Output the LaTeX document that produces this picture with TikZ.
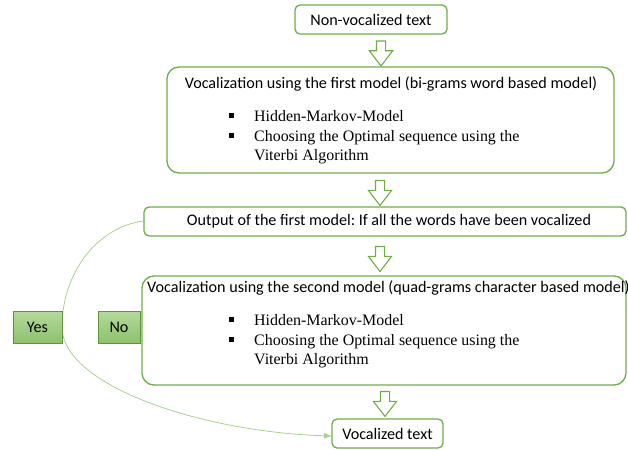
\documentclass[tikz,border=0pt]{standalone}
\usepackage{fontspec}
\setmainfont{Carlito}
\newfontfamily\listfont{Liberation Serif}
\usetikzlibrary{shapes.arrows,arrows.meta}
\definecolor{boxgreen}{HTML}{70AD47}
\definecolor{linegreen}{HTML}{A9D18E}
\definecolor{answertop}{HTML}{B5D99C}
\definecolor{answerbottom}{HTML}{8CC26B}
\newcommand{\sqbullet}{\rule[0.22em]{4.5bp}{4.5bp}}

\begin{document}
\begin{tikzpicture}[x=1bp, y=-1bp,
    sans/.style={font=\frenchspacing\fontsize{16.2}{19}\selectfont},
    stage/.style={sans, draw=boxgreen, line width=1.3pt, rounded corners=5bp, fill=white, inner sep=0pt},
    bigstage/.style={stage, rounded corners=12bp},
    hollow/.style={single arrow, draw=boxgreen, line width=1.1pt, fill=white, rotate=-90,
      minimum height=25bp, minimum width=18bp, inner sep=4bp, single arrow tip angle=75},
    answer/.style={sans, draw=boxgreen!85!black, line width=0.6pt, top color=answertop, bottom color=answerbottom},
    listtext/.style={inner sep=0pt, anchor=north west,
      font=\listfont\fontsize{16}{20}\selectfont},
    decision/.style={draw=linegreen, line width=0.8pt, -{Latex[length=8bp,width=6bp]}}]
  \useasboundingbox (0,0) rectangle (628,450);

  \coordinate (bend) at (62,327);
  \draw[decision] (143,221) .. controls (95,228) and (62,275) .. (bend)
    .. controls (62,385) and (200,432) .. (332,436);

  \node[stage, minimum width=152bp, minimum height=29bp] (nonvoc) at (371,19.5) {Non-vocalized text};
  \node[hollow] (a1) at (381,50.5) {};

  \node[bigstage, minimum width=447bp, minimum height=106bp] (first) at (390.5,120) {};
  \node[sans, inner sep=0pt] (firsttitle) at (391,84)
    {Vocalization using the first model (bi-grams word based model)};
  \node[listtext] (firstlist) at (229,107) {\begin{tabular}{@{}p{25bp}@{}l@{}}
      \sqbullet & Hidden-Markov-Model\\
      \sqbullet & Choosing the Optimal sequence using the\\
                & Viterbi Algorithm
    \end{tabular}};
  \node[hollow] (a2) at (380,190) {};

  \node[stage, minimum width=482bp, minimum height=29bp] (output) at (385,221.5) {};
  \node[sans, inner sep=0pt] (outputtext) at (389,221)
    {Output of the first model: If all the words have been vocalized};
  \node[hollow] (a3) at (380,256) {};

  \node[bigstage, minimum width=484bp, minimum height=109bp] (second) at (384,330.5) {};
  \node[sans, inner sep=0pt, anchor=west] (secondtitle) at (147,288)
    {Vocalization using the second model (quad-grams character based model)};
  \node[listtext] (secondlist) at (229,311) {\begin{tabular}{@{}p{25bp}@{}l@{}}
      \sqbullet & Hidden-Markov-Model\\
      \sqbullet & Choosing the Optimal sequence using the\\
                & Viterbi Algorithm
    \end{tabular}};
  \node[hollow] (a4) at (385,401) {};

  \node[stage, minimum width=111bp, minimum height=29bp] (vocal) at (387.5,433.5) {Vocalized text};

  \node[answer, minimum width=49bp, minimum height=32bp] (yes) at (37.5,327) {Yes};
  \node[answer, minimum width=42bp, minimum height=32bp] (no) at (119,327) {No};
\end{tikzpicture}
\end{document}
